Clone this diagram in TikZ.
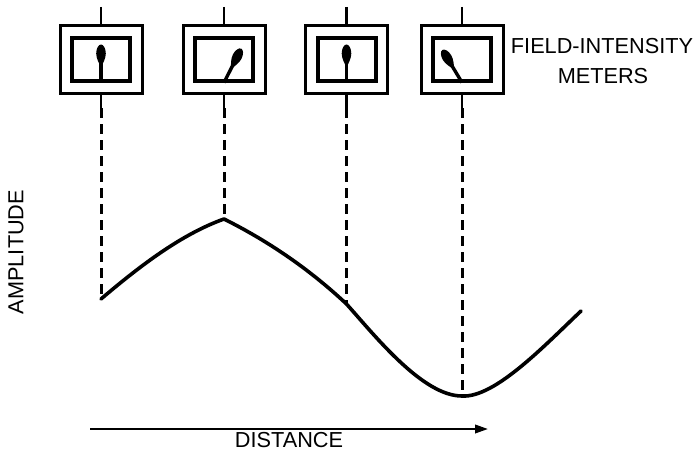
\documentclass[tikz,border=0pt]{standalone}
\usepackage{fontspec}
\setmainfont{Liberation Sans}
\usetikzlibrary{arrows.meta}
\begin{document}
\begin{tikzpicture}[x=1pt,y=-1pt,
  outerbox/.style={draw, line width=3pt, minimum width=82pt, minimum height=67pt, inner sep=0pt},
  innerbox/.style={draw, line width=4pt, minimum width=58pt, minimum height=42pt, inner sep=0pt},
  stem/.style={line width=2.6pt},
  drop/.style={line width=3pt, dash pattern=on 10pt off 6pt},
  wave/.style={line width=3.6pt, line join=round, line cap=round},
  lbl/.style={font=\fontsize{21.7}{26}\selectfont, inner sep=0pt},
  pics/needle/.style={code={
    \draw[line width=3.4pt] (0,0) -- (0,-20);
    \fill (0,-15) .. controls (1.8,-19) and (4.8,-24) .. (4.8,-29) .. controls (4.8,-34) and (2.5,-38) .. (0,-38) .. controls (-2.5,-38) and (-4.8,-34) .. (-4.8,-29) .. controls (-4.8,-24) and (-1.8,-19) .. (0,-15) -- cycle;
  }}]
\useasboundingbox (0,0) rectangle (698,452);

% meters
\foreach \i/\x in {1/101,2/224,3/346.5,4/462}{
  \node[outerbox] (m\i) at (\x,59.5) {};
  \node[innerbox] (i\i) at (\x,59.5) {};
  \coordinate (t\i) at (\x,7);
  \coordinate (b\i) at (\x,108);
  \draw[stem] (t\i) -- (m\i.north);
  \draw[stem] (m\i.south) -- (b\i);
}
\pic at (i1.south) {needle};
\pic[rotate=-27] at (i2.south) {needle};
\pic at (i3.south) {needle};
\pic[rotate=31] at (i4.south) {needle};

% curve points
\coordinate (c1) at (101,299);
\coordinate (c2) at (224,219);
\coordinate (c3) at (346.5,304);
\coordinate (c4) at (462,396);
\coordinate (cend) at (581,311);

\draw[drop] (b1) -- (c1);
\draw[drop] (b2) -- (c2);
\draw[drop] (b3) -- (c3);
\draw[drop] (b4) -- (c4);

\draw[wave] (c1) .. controls (141,265) and (182,234) .. (c2)
  .. controls (264,239) and (306,266) .. (c3)
  .. controls (376,337) and (423,396) .. (c4)
  .. controls (495,398) and (545,345) .. (cend);

% distance arrow
\coordinate (a0) at (90,429);
\coordinate (a1) at (488,429);
\draw[line width=2.2pt, -{Triangle[length=13pt,width=8.5pt]}] (a0) -- (a1);

% labels
\node[lbl, anchor=base] (dist) at (289,447.5) {DISTANCE};
\node[lbl, anchor=base] (fim) at (602,53) {FIELD-INTENSITY};
\node[lbl, anchor=base] (met) at (603,83) {METERS};
\node[lbl, rotate=90] (amp) at (16,252) {AMPLITUDE};
\end{tikzpicture}
\end{document}
